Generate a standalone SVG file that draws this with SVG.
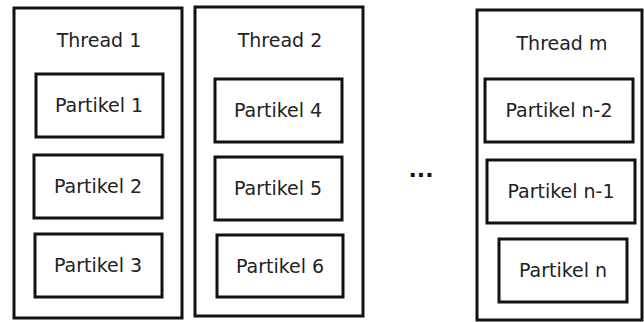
<svg xmlns="http://www.w3.org/2000/svg" width="644" height="322" viewBox="0 0 644 322">
<style>
.box{fill:#fff;stroke:#111;stroke-width:3}
.t{font-family:"DejaVu Sans",sans-serif;font-size:19px;fill:#222;text-anchor:middle}
</style>
<rect width="644" height="322" fill="#fff"/>
<g id="thread1">
<rect class="box" x="14" y="8" width="168" height="310"/>
<text class="t" x="99" y="47">Thread 1</text>
</g>
<g id="p1"><rect class="box" x="36" y="74" width="127" height="63"/><text class="t" x="99" y="112">Partikel 1</text></g>
<g id="p2"><rect class="box" x="34" y="155" width="128" height="63"/><text class="t" x="98" y="193">Partikel 2</text></g>
<g id="p3"><rect class="box" x="35" y="234" width="127" height="63"/><text class="t" x="98" y="272">Partikel 3</text></g>
<g id="thread2">
<rect class="box" x="195" y="7" width="168" height="309"/>
<text class="t" x="280" y="47">Thread 2</text>
</g>
<g id="p4"><rect class="box" x="215" y="79" width="127" height="63"/><text class="t" x="278" y="117">Partikel 4</text></g>
<g id="p5"><rect class="box" x="215" y="157" width="127" height="63"/><text class="t" x="278" y="195">Partikel 5</text></g>
<g id="p6"><rect class="box" x="217" y="235" width="126" height="62"/><text class="t" x="280" y="273">Partikel 6</text></g>
<g id="dots"><text x="421" y="177" style="font-family:'DejaVu Sans',sans-serif;font-size:22px;font-weight:bold;fill:#111;text-anchor:middle">...</text></g>
<g id="threadm">
<rect class="box" x="477" y="10" width="165" height="310"/>
<text class="t" x="562" y="50">Thread m</text>
</g>
<g id="pn2"><rect class="box" x="485" y="79" width="148" height="63"/><text class="t" x="559" y="117">Partikel n-2</text></g>
<g id="pn1"><rect class="box" x="487" y="160" width="148" height="63"/><text class="t" x="561" y="198">Partikel n-1</text></g>
<g id="pn"><rect class="box" x="499" y="239" width="128" height="63"/><text class="t" x="563" y="277">Partikel n</text></g>
<g id="connectors"></g>
</svg>
